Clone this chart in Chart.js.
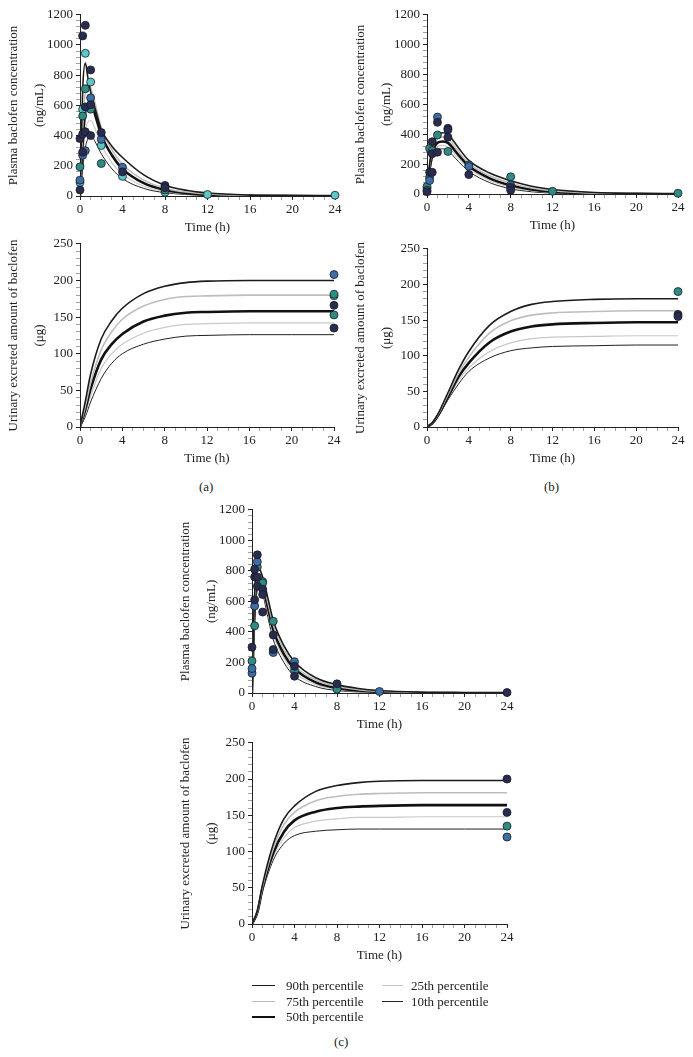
<!DOCTYPE html>
<html>
<head>
<meta charset="utf-8">
<script src="https://cdn.jsdelivr.net/npm/chart.js@4.4.1/dist/chart.umd.min.js"></script>
<style>
  body { margin: 0; background: #fff; }
  #fig { position: relative; width: 693px; height: 1057px; font-family: 'Liberation Serif', 'DejaVu Serif', serif; color: #222; }
  canvas { position: absolute; }
  .lab { position: absolute; font-size: 13px; white-space: nowrap; }
  .sw { position: absolute; height: 0; }
</style>
</head>
<body>
<div id="fig">
  <canvas id="a1" width="345" height="232" style="left:0;top:4px"></canvas>
  <canvas id="a2" width="344" height="234" style="left:0;top:233px"></canvas>
  <canvas id="b1" width="341" height="230" style="left:347px;top:4px"></canvas>
  <canvas id="b2" width="341" height="229" style="left:347px;top:238px"></canvas>
  <canvas id="c1" width="345" height="234" style="left:172px;top:499px"></canvas>
  <canvas id="c2" width="345" height="232" style="left:172px;top:732px"></canvas>

  <div class="lab" style="left:199px;top:479px">(a)</div>
  <div class="lab" style="left:544px;top:479px">(b)</div>
  <div class="lab" style="left:334px;top:1034px">(c)</div>

  <div class="sw" style="left:252px;top:985px;width:23px;border-top:1.6px solid #1b1b1b"></div>
  <div class="lab" style="left:286px;top:978px">90th percentile</div>
  <div class="sw" style="left:252px;top:1001px;width:23px;border-top:1.6px solid #bdbdbd"></div>
  <div class="lab" style="left:286px;top:994px">75th percentile</div>
  <div class="sw" style="left:252px;top:1016px;width:23px;border-top:2.6px solid #111"></div>
  <div class="lab" style="left:286px;top:1009px">50th percentile</div>
  <div class="sw" style="left:382px;top:985px;width:21px;border-top:1.2px solid #c8c8c8"></div>
  <div class="lab" style="left:411px;top:978px">25th percentile</div>
  <div class="sw" style="left:382px;top:1001px;width:21px;border-top:1px solid #222"></div>
  <div class="lab" style="left:411px;top:994px">10th percentile</div>
</div>
<script>
// curve time grids (h)
const plasmaTimes = [0, 0.25, 0.5, 0.75, 1, 1.5, 2, 3, 4, 6, 8, 10, 12, 16, 20, 24];
const urineTimes = [0, 0.5, 1, 2, 3, 4, 6, 8, 10, 12, 16, 20, 24];

// (a) plasma percentiles (ng/mL)
const aPlasmaP90 = [0, 700, 880, 780, 690, 560, 440, 330, 255, 140, 72, 38, 20, 6, 2, 1];
const aPlasmaP75 = [0, 450, 690, 750, 720, 590, 455, 305, 210, 105, 52, 26, 13, 3, 1, 0];
const aPlasmaP50 = [0, 350, 560, 610, 620, 520, 405, 270, 180, 85, 40, 19, 9, 2, 1, 0];
const aPlasmaP25 = [0, 250, 430, 490, 500, 430, 340, 220, 145, 65, 30, 14, 6, 1, 0, 0];
const aPlasmaP10 = [0, 180, 320, 380, 400, 350, 280, 180, 115, 50, 22, 10, 4, 1, 0, 0];

// (b) plasma percentiles
const bPlasmaP90 = [0, 200, 310, 370, 395, 410, 400, 310, 225, 140, 88, 52, 30, 10, 3, 1];
const bPlasmaP75 = [0, 185, 290, 345, 370, 382, 372, 285, 205, 122, 72, 40, 22, 6, 2, 0];
const bPlasmaP50 = [0, 170, 270, 320, 343, 352, 342, 262, 187, 105, 58, 30, 15, 4, 1, 0];
const bPlasmaP25 = [0, 155, 250, 298, 318, 325, 315, 240, 170, 90, 45, 22, 10, 2, 0, 0];
const bPlasmaP10 = [0, 140, 230, 275, 295, 302, 290, 218, 152, 76, 35, 15, 6, 1, 0, 0];

// (c) plasma percentiles
const cPlasmaP90 = [0, 650, 810, 805, 760, 620, 475, 310, 205, 100, 55, 30, 16, 5, 2, 1];
const cPlasmaP75 = [0, 600, 770, 770, 730, 590, 445, 285, 180, 85, 43, 22, 11, 3, 1, 0];
const cPlasmaP50 = [0, 560, 740, 745, 705, 560, 415, 255, 160, 70, 33, 16, 8, 2, 0, 0];
const cPlasmaP25 = [0, 520, 710, 715, 680, 530, 385, 230, 135, 55, 24, 11, 5, 1, 0, 0];
const cPlasmaP10 = [0, 470, 670, 685, 650, 495, 350, 200, 110, 42, 16, 7, 3, 1, 0, 0];

// urinary excreted amount percentiles (ug)
const aUrineP90 = [0, 35, 72, 120, 145, 162, 182, 192, 197, 199, 200, 200, 200];
const aUrineP75 = [0, 28, 60, 105, 130, 147, 165, 174, 178, 179, 180, 180, 180];
const aUrineP50 = [0, 24, 52, 92, 113, 127, 144, 152, 156, 157, 158, 158, 158];
const aUrineP25 = [0, 18, 42, 80, 100, 113, 128, 136, 140, 141, 142, 142, 142];
const aUrineP10 = [0, 14, 34, 66, 87, 100, 113, 120, 124, 125, 126, 126, 126];

const bUrineP90 = [0, 6, 17, 48, 80, 106, 143, 162, 172, 176, 179, 180, 180];
const bUrineP75 = [0, 6, 16, 45, 75, 98, 132, 149, 157, 160, 162, 163, 163];
const bUrineP50 = [0, 5, 15, 42, 70, 90, 119, 134, 141, 144, 146, 147, 147];
const bUrineP25 = [0, 5, 14, 40, 65, 83, 106, 118, 124, 126, 127, 128, 128];
const bUrineP10 = [0, 4, 13, 38, 60, 78, 97, 107, 111, 113, 114, 115, 115];

const cUrineP90 = [0, 18, 55, 110, 145, 163, 183, 191, 195, 197, 198, 198, 198];
const cUrineP75 = [0, 17, 52, 104, 137, 154, 170, 176, 179, 180, 181, 181, 181];
const cUrineP50 = [0, 16, 50, 98, 127, 143, 155, 160, 162, 163, 164, 164, 164];
const cUrineP25 = [0, 15, 47, 93, 119, 133, 142, 145, 147, 147, 148, 148, 148];
const cUrineP10 = [0, 14, 45, 88, 111, 122, 128, 130, 131, 131, 131, 131, 131];

// observed values [time, value], grouped by marker colour
const aPlasmaNavy = [[0,40],[0,380],[0.25,1060],[0.25,410],[0.25,290],[0.5,1130],[0.5,590],[0.5,425],[1,835],[1,605],[1,400],[2,420],[4,160],[8,70],[8,55]];
const aPlasmaBlue = [[0,105],[0.25,270],[0.5,300],[1,650],[2,375],[4,190]];
const aPlasmaTeal = [[0,193],[0.25,530],[0.5,710],[1,575],[2,215],[8,40]];
const aPlasmaCyan = [[0,90],[0.25,575],[0.5,945],[1,755],[2,335],[4,130],[8,25],[12,10],[24,5]];

const bPlasmaNavy = [[0,15],[0.25,145],[0.5,350],[0.5,145],[0.5,270],[1,480],[1,280],[2,440],[2,430],[2,380],[4,130],[8,45],[8,25]];
const bPlasmaBlue = [[0,25],[0.25,110],[0.25,90],[1,515],[4,185],[8,60]];
const bPlasmaTeal = [[0,50],[0.25,305],[0.5,290],[1,395],[2,285],[4,195],[8,115],[12,18],[24,5]];
const bPlasmaCyan = [[0,40]];

const cPlasmaNavy = [[0,300],[0.25,610],[0.25,760],[0.25,810],[0.5,905],[0.5,760],[0.5,700],[1,680],[1,645],[1,530],[2,380],[2,285],[4,175],[4,110],[8,60],[24,3]];
const cPlasmaBlue = [[0,130],[0,160],[0.25,570],[0.5,860],[2,265],[4,205],[12,10]];
const cPlasmaTeal = [[0,210],[0.25,440],[0.5,825],[1,730],[1,720],[2,470],[4,145],[8,40],[8,25]];
const cPlasmaCyan = [];

const aUrineNavy = [[24,166],[24,135]];
const aUrineBlue = [[24,208]];
const aUrineTeal = [[24,181],[24,153]];
const aUrineCyan = [[24,179]];

const bUrineNavy = [[24,158],[24,155]];
const bUrineBlue = [];
const bUrineTeal = [[24,190]];
const bUrineCyan = [];

const cUrineNavy = [[24,200],[24,154]];
const cUrineBlue = [[24,120]];
const cUrineTeal = [[24,135]];
const cUrineCyan = [];

const xTicks = [0, 4, 8, 12, 16, 20, 24];

const FONT = "'Liberation Serif', 'DejaVu Serif', serif";
const curveStyles = [
    { color: '#1b1b1b', width: 1.6 },  // 90th
    { color: '#bdbdbd', width: 1.6 },  // 75th
    { color: '#111111', width: 2.6 },  // 50th
    { color: '#c8c8c8', width: 1.2 },  // 25th
    { color: '#222222', width: 1.0 }   // 10th
];
const markerColors = ['#282c50', '#3d6ea8', '#2e8c82', '#5ec6c6'];

function makePanel(id, times, curves, groups, yMax, yMajor, yMinor, yTitle) {
    const datasets = [];
    groups.forEach(function (pts, i) {
        datasets.push({
            data: pts.map(p => ({ x: p[0], y: p[1] })),
            showLine: false,
            pointRadius: 4,
            pointBackgroundColor: markerColors[i],
            pointBorderColor: '#1a1a22',
            pointBorderWidth: 0.8,
            clip: false,
            order: 0
        });
    });
    curves.forEach(function (vals, i) {
        datasets.push({
            data: times.map((t, k) => ({ x: t, y: vals[k] })),
            showLine: true,
            pointRadius: 0,
            borderColor: curveStyles[i].color,
            borderWidth: curveStyles[i].width,
            cubicInterpolationMode: 'monotone',
            fill: false,
            order: 1 + i
        });
    });

    new Chart(document.getElementById(id), {
        type: 'scatter',
        data: { datasets: datasets },
        options: {
            responsive: false,
            animation: false,
            layout: { padding: { top: 10, right: 10, left: 0, bottom: 0 } },
            plugins: { legend: { display: false }, tooltip: { enabled: false } },
            scales: {
                x: {
                    type: 'linear', min: 0, max: 24,
                    afterFit: s => { s.height = 40; },
                    border: { display: true, color: '#222', width: 1 },
                    grid: {
                        drawOnChartArea: false, drawTicks: true, tickLength: 4,
                        tickColor: c => (xTicks.includes(c.tick.value) ? '#222' : '#777'),
                        tickWidth: c => (xTicks.includes(c.tick.value) ? 1 : 0.7)
                    },
                    ticks: {
                        stepSize: 1, autoSkip: false, maxRotation: 0, padding: 2,
                        color: '#222', font: { family: FONT, size: 13 },
                        callback: v => (xTicks.includes(v) ? v : '')
                    },
                    title: {
                        display: true, text: 'Time (h)', color: '#222',
                        font: { family: FONT, size: 13 }, padding: { top: 0, bottom: 1 }
                    }
                },
                y: {
                    type: 'linear', min: 0, max: yMax,
                    afterFit: s => { s.width = 80; },
                    border: { display: true, color: '#222', width: 1 },
                    grid: {
                        drawOnChartArea: false, drawTicks: true, tickLength: 4,
                        tickColor: c => (c.tick.value % yMajor === 0 ? '#222' : '#777'),
                        tickWidth: c => (c.tick.value % yMajor === 0 ? 1 : 0.7)
                    },
                    ticks: {
                        stepSize: yMinor, autoSkip: false, padding: 3,
                        color: '#222', font: { family: FONT, size: 13 },
                        callback: v => (v % yMajor === 0 ? v : '')
                    },
                    title: {
                        display: true, text: yTitle, color: '#222',
                        font: { family: FONT, size: 13, lineHeight: 2 },
                        padding: { top: 1, bottom: 0 }
                    }
                }
            }
        }
    });
}

const plasmaTitle = ['Plasma baclofen concentration', '(ng/mL)'];
const urineTitle = ['Urinary excreted amount of baclofen', '(\u03bcg)'];

makePanel('a1', plasmaTimes, [aPlasmaP90, aPlasmaP75, aPlasmaP50, aPlasmaP25, aPlasmaP10],
    [aPlasmaNavy, aPlasmaBlue, aPlasmaTeal, aPlasmaCyan], 1200, 200, 40, plasmaTitle);
makePanel('b1', plasmaTimes, [bPlasmaP90, bPlasmaP75, bPlasmaP50, bPlasmaP25, bPlasmaP10],
    [bPlasmaNavy, bPlasmaBlue, bPlasmaTeal, bPlasmaCyan], 1200, 200, 40, plasmaTitle);
makePanel('c1', plasmaTimes, [cPlasmaP90, cPlasmaP75, cPlasmaP50, cPlasmaP25, cPlasmaP10],
    [cPlasmaNavy, cPlasmaBlue, cPlasmaTeal, cPlasmaCyan], 1200, 200, 40, plasmaTitle);
makePanel('a2', urineTimes, [aUrineP90, aUrineP75, aUrineP50, aUrineP25, aUrineP10],
    [aUrineNavy, aUrineBlue, aUrineTeal, aUrineCyan], 250, 50, 10, urineTitle);
makePanel('b2', urineTimes, [bUrineP90, bUrineP75, bUrineP50, bUrineP25, bUrineP10],
    [bUrineNavy, bUrineBlue, bUrineTeal, bUrineCyan], 250, 50, 10, urineTitle);
makePanel('c2', urineTimes, [cUrineP90, cUrineP75, cUrineP50, cUrineP25, cUrineP10],
    [cUrineNavy, cUrineBlue, cUrineTeal, cUrineCyan], 250, 50, 10, urineTitle);
</script>
</body>
</html>
